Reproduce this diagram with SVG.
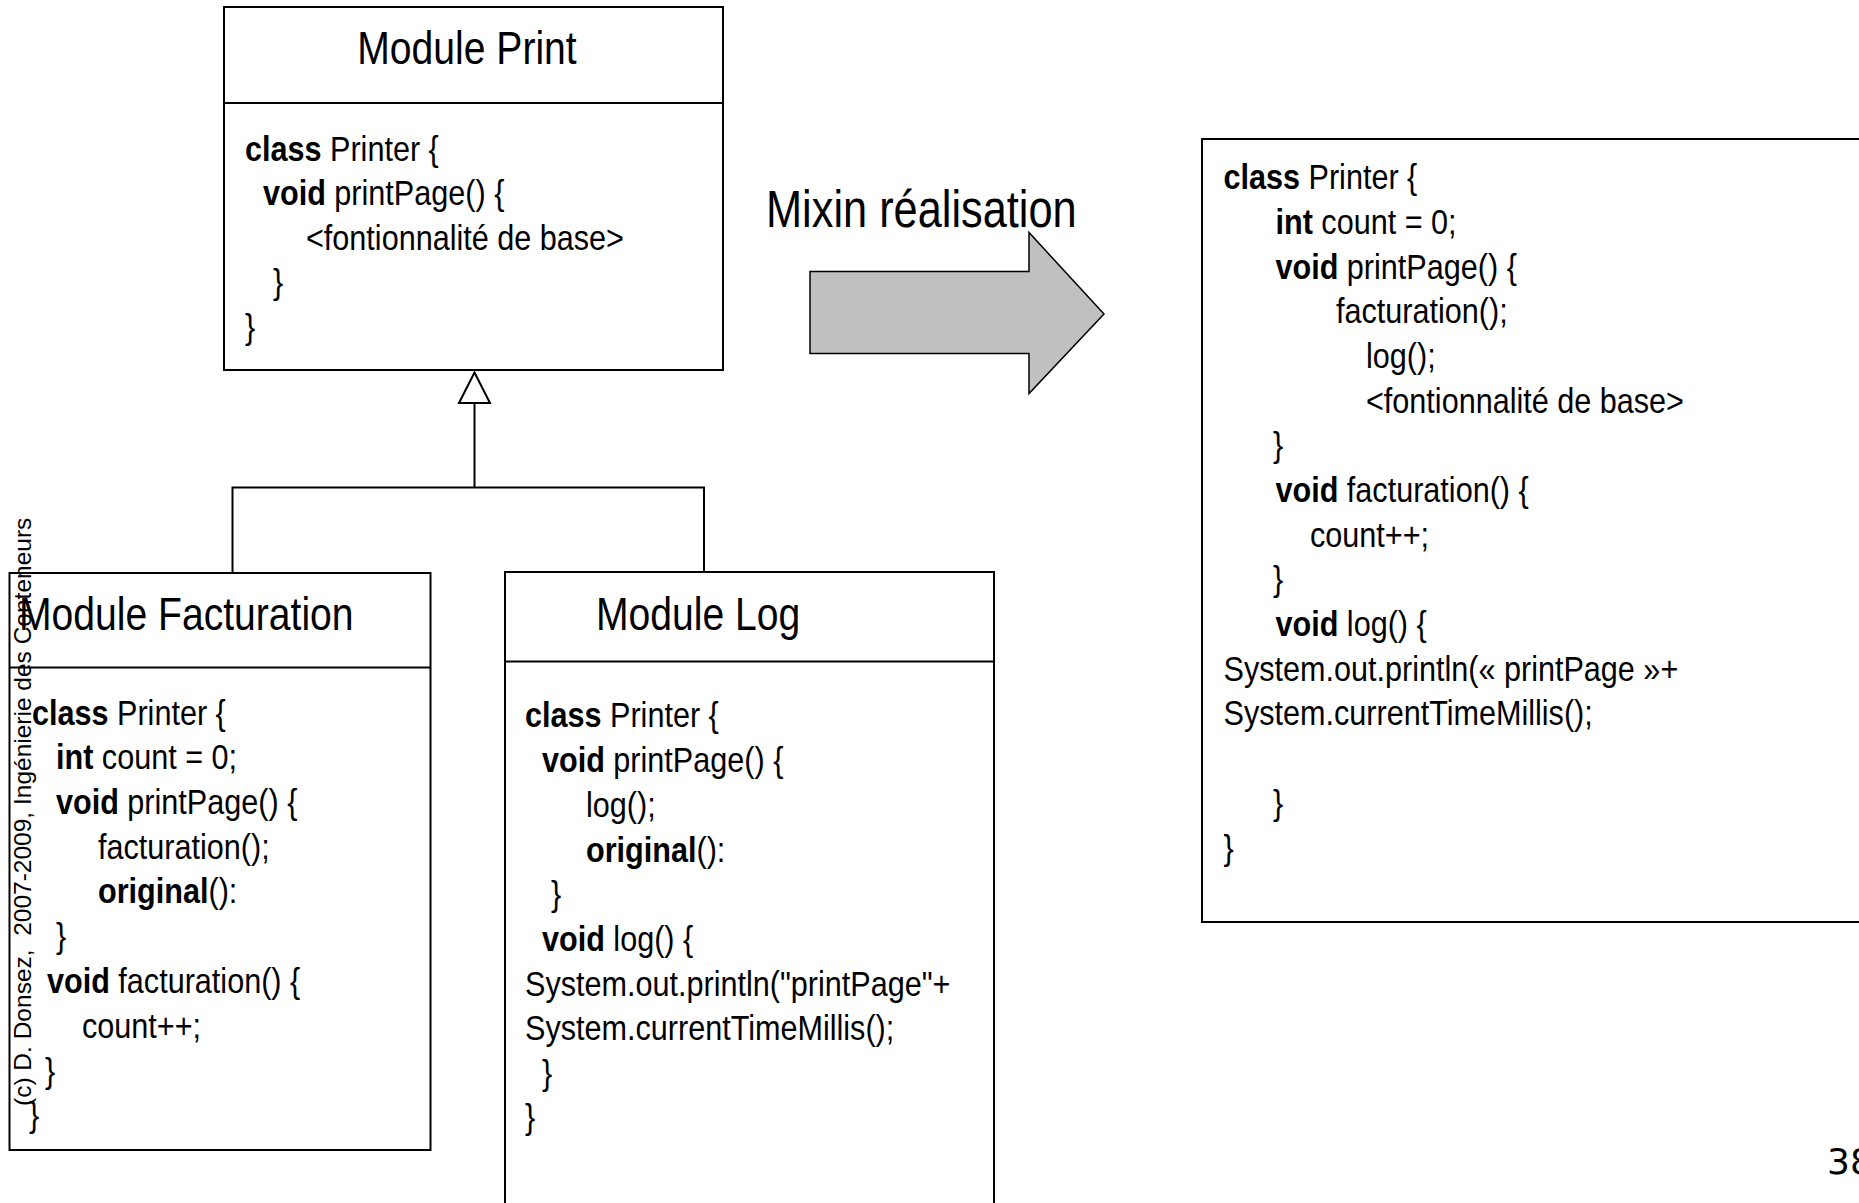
<svg xmlns="http://www.w3.org/2000/svg" width="1859" height="1203" viewBox="0 0 1859 1203">
  <style>
    text { font-family: "Liberation Sans", Arial, sans-serif; fill: #000; }
    .title { font-size: 46px; }
    .code { font-size: 36px; }
    .mixin { font-size: 51px; }
    .b { font-weight: bold; }
    .box { fill: #fff; stroke: #000; stroke-width: 2; }
    .sep { stroke: #000; stroke-width: 2; }
    .wire { fill: none; stroke: #000; stroke-width: 2; }
    .head { fill: #fff; stroke: #000; stroke-width: 2; stroke-linejoin: miter; }
    .bigarrow { fill: #c0c0c0; stroke: #000; stroke-width: 1.5; stroke-linejoin: miter; }
    .copy { font-size: 24.5px; }
    .page { font-family: "DejaVu Sans", Verdana, sans-serif; font-size: 36px; }
  </style>

  <rect width="1859" height="1203" fill="#fff"/>

  <!-- inheritance connectors: both modules specialise Module Print -->
  <g id="connectors">
    <polyline class="wire" points="232.5,573 232.5,487.5 704,487.5 704,572"/>
    <line class="wire" x1="474.5" y1="403" x2="474.5" y2="487.5"/>
    <polygon class="head" points="474.5,372.5 459,403 490,403"/>
  </g>

  <!-- base module -->
  <g id="module-print">
    <rect class="box" x="224" y="7" width="499" height="363"/>
    <line class="sep" x1="224" y1="103" x2="723" y2="103"/>
    <text class="title" text-anchor="middle" transform="matrix(.85 0 0 1 467 64)">Module Print</text>
    <g class="code">
      <text transform="matrix(.85 0 0 1 245 161)"><tspan class="b">class</tspan> Printer {</text>
      <text transform="matrix(.85 0 0 1 263 205)"><tspan class="b">void</tspan> printPage() {</text>
      <text transform="matrix(.85 0 0 1 306 250)">&lt;fontionnalité de base&gt;</text>
      <text transform="matrix(.85 0 0 1 273 294)">}</text>
      <text transform="matrix(.85 0 0 1 245 339)">}</text>
    </g>
  </g>

  <!-- billing mixin -->
  <g id="module-facturation">
    <rect class="box" x="9.5" y="573" width="421" height="577"/>
    <line class="sep" x1="9.5" y1="667.5" x2="430.5" y2="667.5"/>
    <text class="title" transform="matrix(.85 0 0 1 19 630)">Module Facturation</text>
    <g class="code">
      <text transform="matrix(.85 0 0 1 32 725)"><tspan class="b">class</tspan> Printer {</text>
      <text transform="matrix(.85 0 0 1 56 769)"><tspan class="b">int</tspan> count = 0;</text>
      <text transform="matrix(.85 0 0 1 56 814)"><tspan class="b">void</tspan> printPage() {</text>
      <text transform="matrix(.85 0 0 1 98 859)">facturation();</text>
      <text transform="matrix(.85 0 0 1 98 903)"><tspan class="b">original</tspan>():</text>
      <text transform="matrix(.85 0 0 1 56 948)">}</text>
      <text transform="matrix(.85 0 0 1 47 993)"><tspan class="b">void</tspan> facturation() {</text>
      <text transform="matrix(.85 0 0 1 82 1038)">count++;</text>
      <text transform="matrix(.85 0 0 1 45 1083)">}</text>
      <text transform="matrix(.85 0 0 1 29 1127)">}</text>
    </g>
  </g>

  <!-- logging mixin -->
  <g id="module-log">
    <rect class="box" x="505" y="572" width="489" height="700"/>
    <line class="sep" x1="505" y1="661.5" x2="994" y2="661.5"/>
    <text class="title" transform="matrix(.85 0 0 1 596 630)">Module Log</text>
    <g class="code">
      <text transform="matrix(.85 0 0 1 525 727)"><tspan class="b">class</tspan> Printer {</text>
      <text transform="matrix(.85 0 0 1 542 772)"><tspan class="b">void</tspan> printPage() {</text>
      <text transform="matrix(.85 0 0 1 586 817)">log();</text>
      <text transform="matrix(.85 0 0 1 586 862)"><tspan class="b">original</tspan>():</text>
      <text transform="matrix(.85 0 0 1 551 906)">}</text>
      <text transform="matrix(.85 0 0 1 542 951)"><tspan class="b">void</tspan> log() {</text>
      <text transform="matrix(.85 0 0 1 525 996)">System.out.println("printPage"+</text>
      <text transform="matrix(.85 0 0 1 525 1040)">System.currentTimeMillis();</text>
      <text transform="matrix(.85 0 0 1 542 1085)">}</text>
      <text transform="matrix(.85 0 0 1 525 1129)">}</text>
    </g>
  </g>

  <!-- weaving step -->
  <g id="mixin-arrow">
    <text class="mixin" transform="matrix(.85 0 0 1 766 227)">Mixin réalisation</text>
    <polygon class="bigarrow" points="810,271.5 1029,271.5 1029,232.5 1104,314 1029,393.5 1029,353.5 810,353.5"/>
  </g>

  <!-- woven result -->
  <g id="result">
    <rect class="box" x="1202" y="139" width="700" height="783"/>
    <g class="code">
      <text transform="matrix(.85 0 0 1 1223.5 188.5)"><tspan class="b">class</tspan> Printer {</text>
      <text transform="matrix(.85 0 0 1 1275.5 233.5)"><tspan class="b">int</tspan> count = 0;</text>
      <text transform="matrix(.85 0 0 1 1275.5 278.5)"><tspan class="b">void</tspan> printPage() {</text>
      <text transform="matrix(.85 0 0 1 1336 322.5)">facturation();</text>
      <text transform="matrix(.85 0 0 1 1366 367.5)">log();</text>
      <text transform="matrix(.85 0 0 1 1366 412.5)">&lt;fontionnalité de base&gt;</text>
      <text transform="matrix(.85 0 0 1 1273 456.5)">}</text>
      <text transform="matrix(.85 0 0 1 1275.5 501.5)"><tspan class="b">void</tspan> facturation() {</text>
      <text transform="matrix(.85 0 0 1 1310 546.5)">count++;</text>
      <text transform="matrix(.85 0 0 1 1273 590.5)">}</text>
      <text transform="matrix(.85 0 0 1 1275.5 635.5)"><tspan class="b">void</tspan> log() {</text>
      <text transform="matrix(.85 0 0 1 1223.5 680.5)">System.out.println(« printPage »+</text>
      <text transform="matrix(.85 0 0 1 1223.5 724.5)">System.currentTimeMillis();</text>
      <text transform="matrix(.85 0 0 1 1273 814.5)">}</text>
      <text transform="matrix(.85 0 0 1 1223.5 859.5)">}</text>
    </g>
  </g>

  <!-- slide footer -->
  <text class="copy" transform="translate(31 1106) rotate(-90)">(c) D. Donsez,&#160; 2007-2009, Ingénierie des Conteneurs</text>
  <text class="page" x="1827" y="1174">38</text>
</svg>
